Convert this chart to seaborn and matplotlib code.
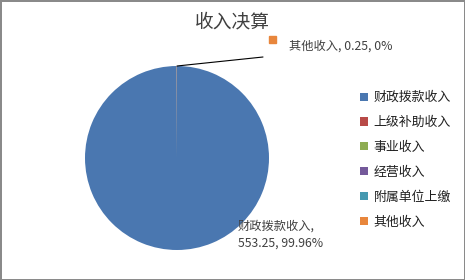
import matplotlib
matplotlib.use("Agg")
import matplotlib.pyplot as plt
import seaborn as sns
import numpy as np

sns.set_theme(style="white")
plt.rcParams['font.family'] = ['Noto Sans CJK SC', 'DejaVu Sans']

categories = ["财政拨款收入", "上级补助收入", "事业收入", "经营收入", "附属单位上缴", "其他收入"]
values = [553.25, 0, 0, 0, 0, 0.25]
pct_labels = ["99.96%", "0%", "0%", "0%", "0%", "0%"]
colors = ["#4A77B0", "#B84A47", "#8EAC52", "#74599A", "#4599B0", "#E8863C"]
title = "收入决算"

fig = plt.figure(figsize=(4.65, 2.8), dpi=100)
fig.patch.set_facecolor("white")
fig.patch.set_edgecolor("#8a8a8a")
fig.patch.set_linewidth(2)

W, H = 465, 280
cx, cy, r = 177, 158, 92
ax = fig.add_axes([(cx - r) / W, (H - cy - r) / H, 2 * r / W, 2 * r / H])
wedges, _ = ax.pie(values, colors=colors, startangle=90, counterclock=False,
                   wedgeprops=dict(linewidth=0))
ax.set_xlim(-1, 1)
ax.set_ylim(-1, 1)
ax.set_aspect("auto")
ax.axis("off")

# label of the main slice
fig.text(238 / W, (H - 226) / H, f"{categories[0]},", fontsize=8.8, color="#404040",
         ha="left", va="center")
fig.text(238 / W, (H - 243) / H, f"{values[0]:.2f}, {pct_labels[0]}",
         fontsize=8.8, color="#404040", ha="left", va="center")

# label of the small slice with leader line
ax.plot([0, (263 - cx) / r], [1.0, (cy - 57) / r], color="black", lw=0.8, clip_on=False)
fig.patches.append(plt.Rectangle((269 / W, (H - 43) / H), 6.5 / W, 6.5 / H,
                                 transform=fig.transFigure, color=colors[5]))
fig.text(289 / W, (H - 46) / H, f"{categories[5]}, {values[5]:.2f}, {pct_labels[5]}",
         fontsize=8.8, color="#404040", ha="left", va="center")

fig.text(232.5 / W, (H - 22) / H, title, fontsize=13.5, color="#404040", ha="center", va="center")

leg = fig.legend(wedges, categories, loc="upper left", bbox_to_anchor=(355 / W, (H - 86) / H),
                 frameon=False, fontsize=9.3, handlelength=0.6, handleheight=0.6,
                 handletextpad=0.45, labelspacing=0.92, borderaxespad=0)
for t in leg.get_texts():
    t.set_color("#202020")

fig.savefig("out.png", dpi=100, facecolor=fig.get_facecolor(), edgecolor=fig.get_edgecolor())
